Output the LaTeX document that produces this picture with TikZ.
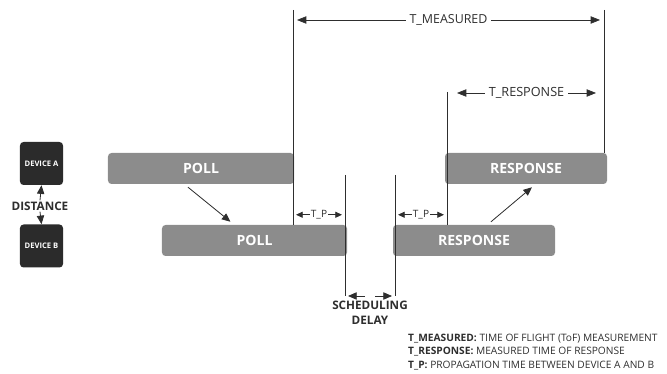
\documentclass[tikz,border=0pt]{standalone}
\usepackage{fontspec}
\setmainfont{Open Sans}
\usepackage{tikz}
\usetikzlibrary{positioning, calc, arrows.meta}
\definecolor{boxgray}{HTML}{8C8C8C}
\definecolor{devdark}{HTML}{2B2B2B}
\definecolor{ink}{HTML}{2E2E2E}
\tikzstyle{frame} = [rectangle, rounded corners=3pt, fill=boxgray, text=white, font=\bfseries\fontsize{12}{14}\selectfont, minimum height=0.93cm]
\tikzstyle{device} = [rectangle, rounded corners=3pt, fill=devdark, text=white, font=\bfseries\fontsize{6.5}{8}\selectfont, minimum width=1.29cm, minimum height=1.29cm]
\tikzstyle{arrow} = [ink, line width=0.7pt, -{Triangle[length=2.6mm,width=2.2mm]}]
\tikzstyle{span} = [ink, line width=0.6pt, {Triangle[length=2.8mm,width=2.2mm]}-{Triangle[length=2.8mm,width=2.2mm]}]
\tikzstyle{tpspan} = [ink, line width=0.6pt, {Triangle[length=2mm,width=1.8mm]}-{Triangle[length=2mm,width=1.8mm]}]
\tikzstyle{marker} = [ink, line width=0.7pt]
\tikzstyle{lbl} = [fill=white, text=ink, inner xsep=3pt, inner ysep=1pt]

\begin{document}
\begin{tikzpicture}[x=0.03cm, y=-0.03cm]
        \useasboundingbox (0,0) rectangle (667,374);
        % devices
        \node[device] (devA) at (41.5,163.5) {DEVICE A};
        \node[device] (devB) at (41.5,246) {DEVICE B};
        \node[text=ink, font=\bfseries\fontsize{10}{12}\selectfont, inner sep=1pt] (dist) at (40,206) {DISTANCE};
        \draw[arrow] (dist.north) -- (devA.south);
        \draw[arrow] (dist.south) -- (devB.north);
        % frames
        \node[frame, minimum width=5.58cm] (pollA) at (201,168.5) {POLL};
        \node[frame, minimum width=5.55cm] (pollB) at (254.5,240.5) {POLL};
        \node[frame, minimum width=4.86cm] (respA) at (526,168.5) {RESPONSE};
        \node[frame, minimum width=4.86cm] (respB) at (474,240.5) {RESPONSE};
        \draw[arrow] ($(pollA.south)+(-13,3)$) -- ($(pollB.north)+(-24,-3)$);
        \draw[arrow] ($(respB.north)+(17,-3)$) -- ($(respA.south)+(6,3)$);
        % time markers
        \coordinate (tm0) at (293,10);
        \coordinate (tm1) at (604,10);
        \coordinate (tr0) at (447,92);
        \coordinate (sd0) at (345,175);
        \coordinate (sd1) at (395,175);
        \draw[marker] (tm0) -- (tm0 |- pollB.north);
        \draw[marker] (tm1) -- (tm1 |- respA.north);
        \draw[marker] (tr0) -- (tr0 |- respB.north);
        \draw[marker] (sd0) -- ++(0,121) coordinate (sd0b);
        \draw[marker] (sd1) -- ++(0,121) coordinate (sd1b);
        % spans
        \draw[span] ($(tm0)+(4,10)$) -- ($(tm1)+(-4,10)$) node[lbl, midway, font=\fontsize{10.6}{12}\selectfont] {T\_MEASURED};
        \draw[span] ($(tr0)+(10,1)$) -- ($(tm1 |- tr0)+(-8,1)$) node[lbl, midway, font=\fontsize{10.8}{12}\selectfont] {T\_RESPONSE};
        \draw[tpspan] ($(tm0 |- pollB.north)+(3,-10)$) -- ($(sd0 |- pollB.north)+(-3,-10)$) node[lbl, midway, inner xsep=1pt, font=\fontsize{8.6}{10}\selectfont] {T\_P};
        \draw[tpspan] ($(sd1 |- respB.north)+(3,-10)$) -- ($(tr0 |- respB.north)+(-3,-10)$) node[lbl, midway, inner xsep=1pt, font=\fontsize{8.6}{10}\selectfont] {T\_P};
        % scheduling delay
        \draw[arrow] ($(sd0b)+(20,0)$) -- ($(sd0b)+(3,0)$);
        \draw[arrow] ($(sd1b)+(-20,0)$) -- ($(sd1b)+(-3,0)$);
        \node[text=ink, anchor=north, align=center, inner sep=0pt, font=\bfseries\fontsize{10}{13}\selectfont] (sched) at ($(sd0b)!0.5!(sd1b)+(0,5)$) {SCHEDULING\\DELAY};
        % legend
        \node[text=ink, anchor=north west, align=left, inner sep=0pt, font=\fontsize{8.7}{11.3}\selectfont] (legend) at (408,334) {\textbf{T\_MEASURED:} TIME OF FLIGHT (ToF) MEASUREMENT\\\textbf{T\_RESPONSE:} MEASURED TIME OF RESPONSE\\\textbf{T\_P:} PROPAGATION TIME BETWEEN DEVICE A AND B};
      \end{tikzpicture}
\end{document}
